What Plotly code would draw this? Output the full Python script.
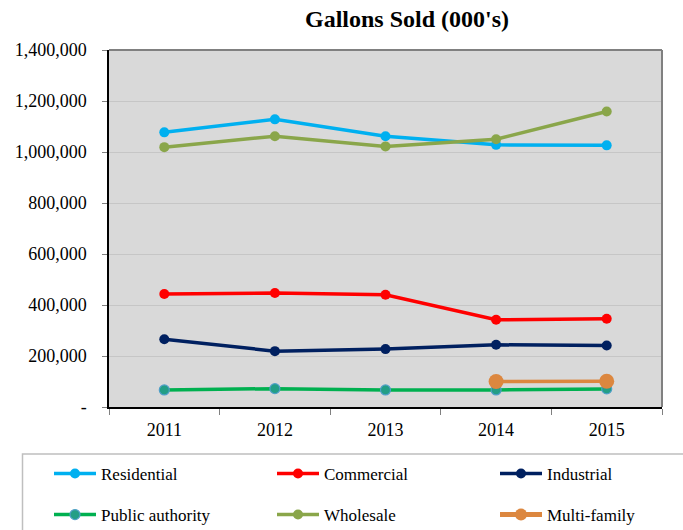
import plotly.graph_objects as go

# Gallons sold by customer class, thousands of gallons
years = ["2011", "2012", "2013", "2014", "2015"]
residential = [1077000, 1128000, 1062000, 1028000, 1026000]
commercial = [443000, 447000, 440000, 342000, 346000]
industrial = [266000, 219000, 227000, 244000, 241000]
public_authority = [67000, 72000, 67000, 67000, 71000]
wholesale = [1019000, 1062000, 1022000, 1050000, 1159000]
multi_family = [None, None, None, 100000, 101000]

y_tick_vals = [0, 200000, 400000, 600000, 800000, 1000000, 1200000, 1400000]
y_tick_text = ["-", "200,000", "400,000", "600,000", "800,000",
               "1,000,000", "1,200,000", "1,400,000"]

FONT = "Liberation Serif, Times New Roman, serif"
W, H = 683, 530

# name, values, line colour, marker colour, marker size, legend column (px), legend row (px)
series = [
    ("Residential", residential, "#00b0f0", "#00b0f0", 10, 49, 474),
    ("Commercial", commercial, "#ff0000", "#ff0000", 10, 272, 474),
    ("Industrial", industrial, "#002060", "#002060", 10, 495, 474),
    ("Public authority", public_authority, "#00b050", "#239e86", 10, 49, 515),
    ("Wholesale", wholesale, "#8aa64a", "#8aa64a", 10, 272, 515),
    ("Multi-family", multi_family, "#dc873f", "#dc873f", 15, 495, 515),
]

fig = go.Figure()
legends = {}
for i, (name, vals, lc, mc, ms, lx, ly) in enumerate(series):
    marker = dict(size=ms, color=mc)
    if name == "Public authority":
        marker["line"] = dict(color="#4f9fc8", width=1.2)
    key = "legend" if i == 0 else f"legend{i + 1}"
    fig.add_trace(go.Scatter(
        x=years, y=vals, name=name, mode="lines+markers",
        line=dict(color=lc, width=3.5), marker=marker,
        legend=key, connectgaps=False,
    ))
    legends[key] = dict(orientation="h", xref="container", yref="container",
                        x=lx / W, y=1 - ly / H, xanchor="left", yanchor="middle",
                        bgcolor="rgba(0,0,0,0)",
                        itemsizing="constant" if ms > 10 else "trace",
                        itemwidth=42,
                        font=dict(family=FONT, size=17, color="#000000"))

fig.update_layout(
    width=W, height=H,
    margin=dict(l=109, r=21, t=50, b=123, autoexpand=False),
    paper_bgcolor="white",
    plot_bgcolor="#d9d9d9",
    font=dict(family=FONT, size=18, color="#000000"),
    title=dict(text="<b>Gallons Sold (000's)</b>", x=407 / W, xanchor="center",
               xref="container", y=1 - 19 / H, yref="container", yanchor="middle",
               font=dict(family=FONT, size=24, color="#000000")),
    xaxis=dict(type="category", range=[-0.5, 4.5], showgrid=False,
               showline=True, linecolor="#000000", linewidth=1.5,
               ticks="outside", ticklen=6, tickcolor="#808080", tickson="boundaries",
               ticklabelstandoff=6, tickfont=dict(size=18), automargin=False),
    yaxis=dict(range=[0, 1400000], tickvals=y_tick_vals, ticktext=y_tick_text,
               showgrid=True, gridcolor="#c6c6c6", gridwidth=1,
               showline=True, linecolor="#000000", linewidth=1.5,
               ticks="outside", ticklen=5, tickcolor="#808080",
               ticklabelstandoff=12, zeroline=False, tickfont=dict(size=18),
               automargin=False),
    showlegend=True,
    **legends,
)

# gray frame on the top and right edges of the plot area
fig.add_shape(type="line", xref="paper", yref="paper", x0=0, x1=1, y0=1, y1=1,
              line=dict(color="#808080", width=2), layer="above")
fig.add_shape(type="line", xref="paper", yref="paper", x0=1, x1=1, y0=0, y1=1,
              line=dict(color="#808080", width=2), layer="above")

# legend frame
fig.add_shape(type="rect", xref="paper", yref="paper",
              x0=(22.5 - 109) / 553, x1=1.2, y0=(407 - 454) / 357, y1=-0.5,
              line=dict(color="#bfbfbf", width=1.5), fillcolor="rgba(0,0,0,0)")

fig.write_html("out.html")
